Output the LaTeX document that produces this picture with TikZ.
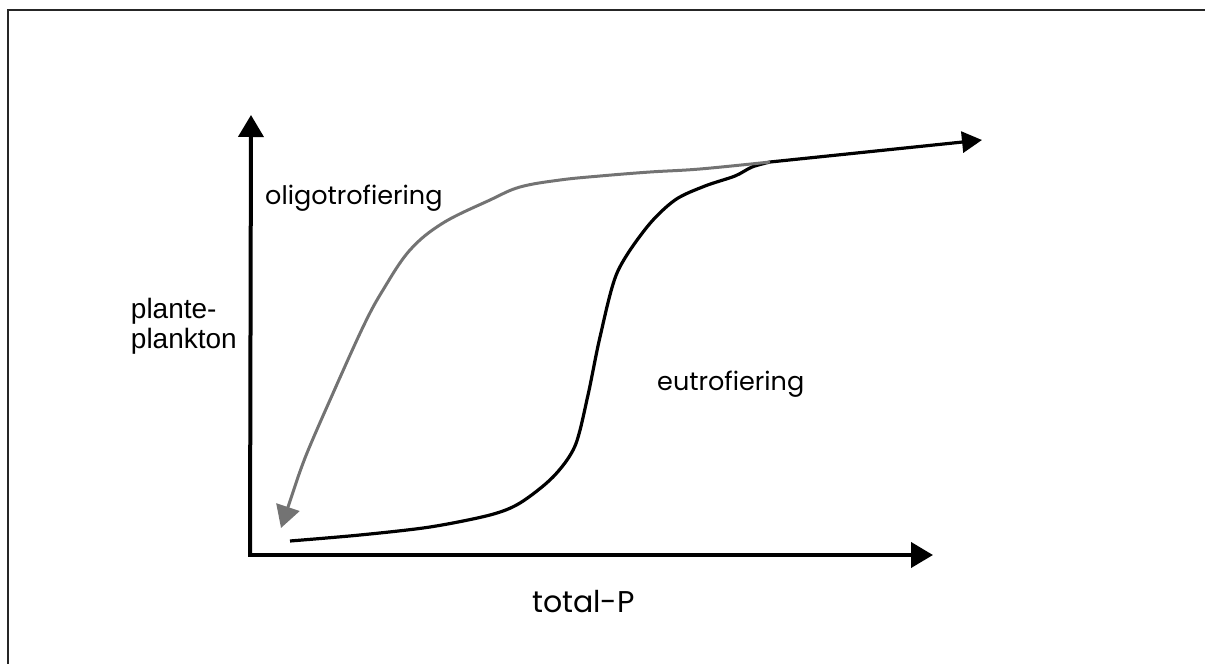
\documentclass[tikz,border=0pt]{standalone}
\usepackage{fontspec}
\setmainfont{Poppins}
\newfontfamily\axisfont{Liberation Sans}
\usetikzlibrary{
    positioning,  % Relative positioning
    arrows.meta   % Modern arrow tips
}
\tikzset{
    axis/.style={line width=4pt, -{Triangle[length=22pt,width=25pt]}},
    eutro/.style={line width=3.2pt, black, line join=round},
    oligo/.style={line width=3pt, black!55, line join=round,
        -{Triangle[length=22pt,width=24pt]}},
    label/.style={font=\fontsize{25.5}{30}\selectfont, inner sep=0pt},
    ylabel/.style={font=\axisfont\fontsize{28}{30}\selectfont, inner sep=0pt}
}

\begin{document}
\begin{tikzpicture}[x=1pt,y=-1pt]
    \useasboundingbox (0,0) rectangle (1205,664);
    % frame (cut off right and below)
    \draw[line width=2pt, black!85] (1205,10) -- (8,10) -- (8,664);

    % axes
    \coordinate (O) at (250,555);
    \coordinate (ytip) at (251,115);
    \coordinate (xtip) at (933,555);
    \draw[axis] ([yshift=2pt]O) -- (ytip);
    \draw[axis] ([xshift=-2pt]O) -- (xtip);

    % eutrofiering curve
    \coordinate (estart) at (290,541);
    \coordinate (merge) at (770,162);
    \coordinate (etip) at (982,140);
    \draw[eutro, -{Triangle[length=20pt,width=21pt]}]
        plot[smooth, tension=0.5] coordinates {(estart) (360,535) (430,527)
        (490,515) (520,503) (553,477) (575,446) (588,395) (600,337)
        (617,273) (647,227) (675,200) (705,186) (735,176) (752,167) (merge)}
        -- (etip);

    % oligotrofiering curve
    \coordinate (otip) at (281,528);
    \draw[oligo]
        plot[smooth, tension=0.6] coordinates {(merge) (700,169) (650,172)
        (600,176) (560,180) (520,187) (490,200) (443,223) (410,250)
        (383,290) (363,327) (330,400) (307,453) (296,483)} -- (otip);

    % labels
    \node[label, anchor=base west] (oligo) at (265,204) {oligotrofiering};
    \node[label, anchor=base west] (eutro) at (657,390) {eutrofiering};
    \node[ylabel, anchor=east, align=left] (ylab) at (237,326)
        {plante-\\plankton};
    \node[label, font=\fontsize{30}{34}\selectfont, anchor=base west]
        (xlab) at (532,612) {total-P};
\end{tikzpicture}
\end{document}
